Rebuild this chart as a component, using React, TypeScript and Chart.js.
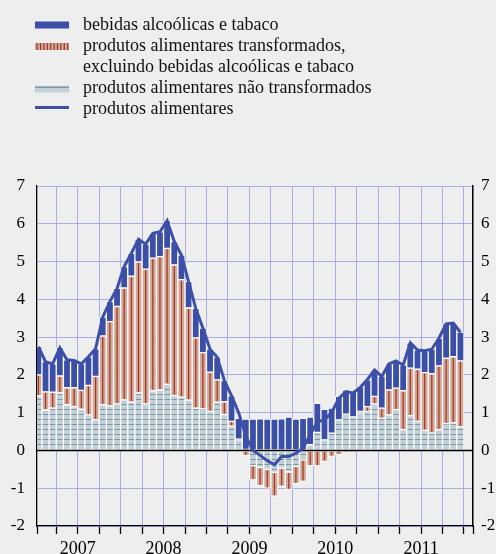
import React, { useEffect, useRef } from 'react';
import { Chart, registerables } from 'chart.js';

Chart.register(...registerables);

// ---------- data ----------
const years = ['2007', '2008', '2009', '2010', '2011'];
const monthNames = ['jan', 'fev', 'mar', 'abr', 'mai', 'jun', 'jul', 'ago', 'set', 'out', 'nov', 'dez'];
const months = years.flatMap((y) => monthNames.map((m) => `${m} ${y}`));

const legendLines = [
  'bebidas alcoólicas e tabaco',
  'produtos alimentares transformados,',
  'excluindo bebidas alcoólicas e tabaco',
  'produtos alimentares não transformados',
  'produtos alimentares',
];

const seriesAlcohol = 'bebidas alcoólicas e tabaco';
const seriesProcessed = 'produtos alimentares transformados, excluindo bebidas alcoólicas e tabaco';
const seriesUnprocessed = 'produtos alimentares não transformados';
const seriesTotal = 'produtos alimentares';

// total food (line)
const total = [
  2.75, 2.35, 2.29, 2.72, 2.40, 2.38, 2.29, 2.48, 2.69, 3.53, 3.94, 4.29,
  4.87, 5.22, 5.59, 5.46, 5.75, 5.79, 6.08, 5.53, 5.17, 4.47, 3.76, 3.24,
  2.68, 2.47, 1.85, 1.45, 1.00, 0.38, 0.00, -0.13, -0.27, -0.38, -0.16, -0.16,
  -0.07, 0.05, 0.42, 0.76, 0.81, 1.00, 1.38, 1.56, 1.52, 1.67, 1.88, 2.13,
  1.96, 2.29, 2.37, 2.26, 2.85, 2.66, 2.64, 2.68, 2.97, 3.35, 3.37, 3.13,
];

// unprocessed food contribution
const unprocessed = [
  1.44, 1.07, 1.12, 1.52, 1.21, 1.16, 1.09, 0.94, 0.81, 1.21, 1.18, 1.23,
  1.34, 1.28, 1.52, 1.23, 1.58, 1.60, 1.75, 1.45, 1.41, 1.33, 1.12, 1.10,
  1.03, 1.28, 0.95, 0.64, 0.28, 0.03, -0.40, -0.45, -0.50, -0.58, -0.47, -0.57,
  -0.42, -0.25, 0.15, 0.48, 0.28, 0.46, 0.81, 0.96, 0.89, 0.97, 1.03, 1.23,
  0.85, 0.94, 1.08, 0.55, 0.92, 0.77, 0.53, 0.46, 0.55, 0.71, 0.73, 0.62,
];

// processed food excl. alcohol & tobacco contribution
const processed = [
  0.56, 0.48, 0.42, 0.45, 0.45, 0.50, 0.50, 0.78, 1.15, 1.82, 2.23, 2.58,
  2.96, 3.33, 3.47, 3.57, 3.51, 3.53, 3.60, 3.46, 3.11, 2.44, 1.86, 1.49,
  1.04, 0.59, 0.34, 0.13, 0.02, -0.14, -0.38, -0.48, -0.50, -0.63, -0.48, -0.47,
  -0.46, -0.57, -0.41, -0.41, -0.29, -0.16, -0.11, -0.05, -0.02, 0.06, 0.13, 0.20,
  0.27, 0.66, 0.57, 1.03, 1.26, 1.38, 1.53, 1.57, 1.69, 1.73, 1.75, 1.75,
];

// alcohol & tobacco contribution
const alcohol = [
  0.75, 0.80, 0.75, 0.75, 0.74, 0.72, 0.70, 0.76, 0.73, 0.50, 0.53, 0.48,
  0.57, 0.61, 0.60, 0.66, 0.66, 0.66, 0.73, 0.62, 0.65, 0.70, 0.78, 0.65,
  0.61, 0.60, 0.56, 0.68, 0.55, 0.80, 0.83, 0.84, 0.83, 0.83, 0.84, 0.88,
  0.83, 0.85, 0.73, 0.77, 0.81, 0.66, 0.62, 0.64, 0.67, 0.66, 0.71, 0.70,
  0.85, 0.69, 0.72, 0.68, 0.67, 0.51, 0.58, 0.65, 0.73, 0.91, 0.89, 0.76,
];

const yMin = -2;
const yMax = 7;

// ---------- styles ----------
const BG = '#eeeeee';
const BLUE = '#3b4fa6';
const LINE_BLUE = '#3c50a9';
const SALMON = '#d4a898';
const RED = '#9e3626';
const GREY = '#c3d0d7';
const GREY_DARK = '#7d98a6';
const LAV = '#a9afe6';
const FONT = '"Liberation Serif", "Times New Roman", serif';

const X_MIN = -0.19;
const X_MAX = 60.76;

export default function App() {
  const ref = useRef<HTMLCanvasElement | null>(null);

  useEffect(() => {
    const canvas = ref.current;
    if (!canvas) return;
    const ctx = canvas.getContext('2d');
    if (!ctx) return;

    const pc = document.createElement('canvas');
    pc.width = 4;
    pc.height = 5;
    const pctx = pc.getContext('2d')!;
    pctx.fillStyle = GREY;
    pctx.fillRect(0, 0, 4, 5);
    pctx.fillStyle = GREY_DARK;
    pctx.fillRect(0, 4, 4, 1);
    const pattern = ctx.createPattern(pc, 'repeat');

    // quarter boundaries (between months) for grid lines and tick marks
    const quarterTicks: number[] = [X_MIN];
    months.forEach((_, i) => {
      if (i > 0 && i % 3 === 0) quarterTicks.push(i - 0.5);
    });
    quarterTicks.push(months.length - 0.5);
    quarterTicks.push(X_MAX);

    const pts = (arr: number[]) => arr.map((v, i) => ({ x: i, y: v }));

    const overlay = {
      id: 'overlay',
      beforeDatasetDraw(chart: any, args: any) {
        if (args.index !== 0) return;
        const c = chart.ctx;
        const a = chart.chartArea;
        const y0 = Math.round(chart.scales.y.getPixelForValue(0)) + 0.5;
        c.save();
        c.strokeStyle = '#000';
        c.lineWidth = 1.4;
        c.beginPath();
        c.moveTo(a.left, y0);
        c.lineTo(a.right, y0);
        c.stroke();
        c.restore();
      },
      afterDatasetDraw(chart: any, args: any) {
        if (args.index !== 2) return;
        const c = chart.ctx;
        const a = chart.chartArea;
        c.save();
        c.beginPath();
        c.rect(a.left, a.top, a.right - a.left, a.bottom - a.top);
        c.clip();
        c.fillStyle = RED;
        args.meta.data.forEach((el: any) => {
          const top = Math.min(el.y, el.base) + 1;
          const bot = Math.max(el.y, el.base) - 1;
          if (bot - top > 0.5) c.fillRect(el.x - 0.6, top, 1.2, bot - top);
        });
        c.restore();
      },
      afterDraw(chart: any) {
        const c = chart.ctx;
        c.save();
        c.fillStyle = BLUE;
        c.fillRect(35, 21.5, 34, 7);
        c.fillStyle = SALMON;
        c.fillRect(35, 43, 34, 7);
        c.fillStyle = RED;
        for (let x = 36.5; x < 68; x += 3.4) c.fillRect(x, 43, 1.2, 7);
        c.fillStyle = GREY;
        c.fillRect(35, 86, 34, 6.5);
        c.fillStyle = GREY_DARK;
        c.fillRect(35, 86.5, 34, 1.5);
        c.strokeStyle = LINE_BLUE;
        c.lineWidth = 3;
        c.beginPath();
        c.moveTo(35, 107.5);
        c.lineTo(69, 107.5);
        c.stroke();
        c.font = `18px ${FONT}`;
        c.fillStyle = '#111';
        c.textAlign = 'left';
        c.textBaseline = 'alphabetic';
        const base = [29.5, 50.7, 71.9, 93.1, 114.3];
        legendLines.forEach((t, i) => c.fillText(t, 83, base[i]));
        c.restore();
      },
    };

    const chart = new Chart(ctx, {
      type: 'bar',
      data: {
        datasets: [
          {
            type: 'line',
            label: seriesTotal,
            data: pts(total),
            borderColor: LINE_BLUE,
            backgroundColor: LINE_BLUE,
            borderWidth: 3,
            pointRadius: 0,
            tension: 0,
            fill: false,
            order: 0,
            stack: 'total',
            xAxisID: 'x',
            yAxisID: 'y',
          } as any,
          {
            type: 'bar',
            label: seriesUnprocessed,
            data: pts(unprocessed),
            backgroundColor: pattern as any,
            borderColor: '#ffffff',
            borderWidth: 1,
            borderSkipped: false,
            order: 1,
            stack: 'bars',
            clip: 0,
            xAxisID: 'x',
            yAxisID: 'y',
          } as any,
          {
            type: 'bar',
            label: seriesProcessed,
            data: pts(processed),
            backgroundColor: SALMON,
            borderColor: '#ffffff',
            borderWidth: 1,
            borderSkipped: false,
            order: 1,
            stack: 'bars',
            clip: 0,
            xAxisID: 'x',
            yAxisID: 'y',
          } as any,
          {
            type: 'bar',
            label: seriesAlcohol,
            data: pts(alcohol),
            backgroundColor: BLUE,
            borderColor: '#ffffff',
            borderWidth: 1,
            borderSkipped: false,
            order: 1,
            stack: 'bars',
            clip: 0,
            xAxisID: 'x',
            yAxisID: 'y',
          } as any,
        ],
      },
      options: {
        animation: false,
        responsive: false,
        maintainAspectRatio: false,
        devicePixelRatio: 1,
        events: [],
        layout: { padding: { top: 186, left: 0, right: 0, bottom: 0 } },
        plugins: { legend: { display: false }, tooltip: { enabled: false } },
        datasets: { bar: { barPercentage: 1, categoryPercentage: 1 } },
        scales: {
          x: {
            type: 'linear',
            min: X_MIN,
            max: X_MAX,
            stacked: true,
            offset: false,
            afterBuildTicks: (axis: any) => {
              axis.ticks = quarterTicks.map((v) => ({ value: v }));
            },
            afterFit: (axis: any) => {
              axis.height = 28;
            },
            ticks: {
              autoSkip: false,
              maxRotation: 0,
              minRotation: 0,
              padding: 4,
              color: '#000',
              font: { family: FONT, size: 18 },
              callback: (value: any) => {
                const k = (Number(value) - 5.5) / 12;
                return Number.isInteger(k) && years[k] ? years[k] : '';
              },
            },
            grid: {
              offset: false,
              color: (c: any) => {
                const v = c.tick ? c.tick.value : null;
                return v === X_MIN || v === X_MAX ? 'rgba(0,0,0,0)' : LAV;
              },
              lineWidth: 1,
              drawTicks: true,
              tickLength: 8,
              tickColor: '#000',
              tickWidth: 1.3,
            },
            border: { display: true, color: '#000', width: 1.3 },
          },
          y: {
            type: 'linear',
            position: 'left',
            min: yMin,
            max: yMax,
            stacked: true,
            afterFit: (axis: any) => {
              axis.width = 37;
            },
            ticks: {
              stepSize: 1,
              padding: 12,
              color: '#000',
              font: { family: FONT, size: 17 },
            },
            grid: { color: LAV, lineWidth: 1, drawTicks: false },
            border: { display: true, color: '#000', width: 1.3 },
          },
          y2: {
            type: 'linear',
            position: 'right',
            min: yMin,
            max: yMax,
            afterFit: (axis: any) => {
              axis.width = 23;
            },
            ticks: {
              stepSize: 1,
              padding: 8,
              color: '#000',
              font: { family: FONT, size: 17 },
            },
            grid: { display: false, drawTicks: false },
            border: { display: true, color: '#000', width: 1.5 },
          },
        },
      } as any,
      plugins: [overlay],
    });

    return () => chart.destroy();
  }, []);

  return (
    <div
      style={{
        position: 'absolute',
        left: 0,
        top: 0,
        width: 496,
        height: 554,
        background: BG,
        overflow: 'hidden',
      }}
    >
      <canvas ref={ref} width={496} height={554} style={{ width: 496, height: 554, display: 'block' }} />
    </div>
  );
}
